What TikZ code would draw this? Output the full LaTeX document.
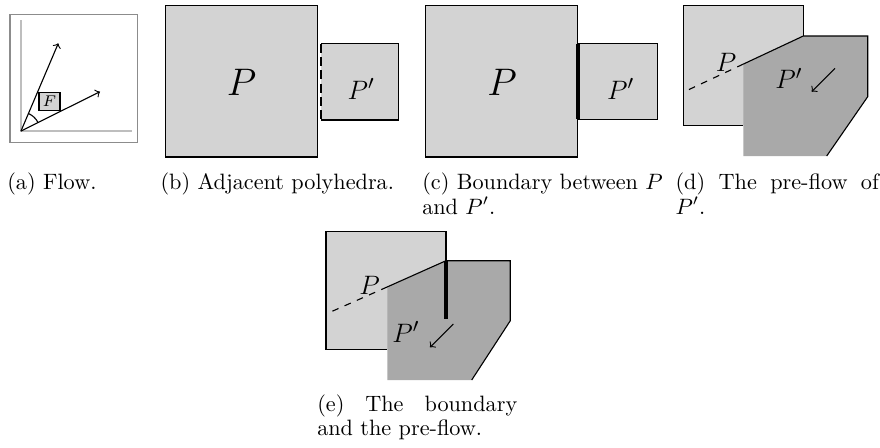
\documentclass[tikz,border=0pt]{standalone}
\usepackage{xcolor}
\definecolor{lgray}{RGB}{211,211,211}
\definecolor{dgray}{RGB}{169,169,169}
\definecolor{axgray}{RGB}{190,190,190}
\definecolor{boxgray}{RGB}{140,140,140}
\begin{document}
\begin{tikzpicture}[x=0.45pt,y=-0.45pt,line width=0.5pt,
  bigP/.style={inner sep=0,font=\fontsize{18.7}{22}\selectfont},
  smallP/.style={inner sep=0,font=\fontsize{12.7}{15}\selectfont},
  captext/.style={anchor=base west,inner sep=0,font=\fontsize{10}{12}\selectfont},
  thickbd/.style={line width=1.6pt},
  flowarrow/.style={->}]
\useasboundingbox (0,0) rectangle (880,447);
% ---------- (a) ----------
\draw[boxgray,line width=0.7pt] (10,14.3) rectangle (137.7,142.3);
\draw[axgray,line width=1pt] (21,20) -- (21,131) -- (132,131);
\coordinate (o) at (21,131);
\coordinate (a1) at (58.3,43.3);
\coordinate (a2) at (100,91.7);
\draw[flowarrow] (o) -- (a1);
\draw[flowarrow] (o) -- (a2);
\draw (o) ++(-26.5:19) arc[start angle=-26.5,end angle=-67,radius=19];
\node[draw,fill=lgray,minimum width=9.45pt,minimum height=8.3pt,inner sep=0,
  font=\fontsize{7.5}{9}\selectfont] (F) at (49.5,101.5) {$F$};
% ---------- (b) ----------
\filldraw[fill=lgray] (165.3,5.3) rectangle (317.3,157);
\fill[lgray] (321,43.7) rectangle (398.7,120);
\draw (321,43.7) -- (398.7,43.7) -- (398.7,120) -- (321,120);
\draw[dash pattern=on 4pt off 2pt] (321,43.7) -- (321,120);
\node[bigP] (Pb) at (241.7,82.5) {$P$};
\node[smallP] (Pbp) at (361.3,89) {$P'$};
% ---------- (c) ----------
\filldraw[fill=lgray] (425.7,5.3) rectangle (577.7,157);
\filldraw[fill=lgray] (579,43.7) rectangle (657.3,119.3);
\draw[thickbd] (577.5,43.7) -- (577.5,119.3);
\node[bigP] (Pc) at (502.2,82.5) {$P$};
\node[smallP] (Pcp) at (620.8,89) {$P'$};
% ---------- (d) ----------
\fill[lgray] (683.7,5.3) rectangle (803.3,125.3);
\fill[dgray] (803.3,36) -- (867.7,36) -- (867.7,96.7) -- (826.7,156) -- (743.3,156) -- (743.3,64.1) -- cycle;
\draw (743.3,125.3) -- (683.7,125.3) -- (683.7,5.3) -- (803.3,5.3) -- (803.3,36);
\draw (803.3,36) -- (867.7,36) -- (867.7,96.7) -- (826.7,156);
\draw (803.3,36) -- (743.3,64.1);
\draw[dashed] (743.3,64.1) -- (683.7,92);
\node[smallP] (Pd) at (726,62.5) {$P$};
\node[smallP] (Pdp) at (789,78.3) {$P'$};
\coordinate (d1) at (835,68.3);
\coordinate (d2) at (811.7,91.7);
\draw[flowarrow] (d1) -- (d2);
% ---------- (e) ----------
\fill[lgray] (326,231.7) rectangle (446,349.3);
\fill[dgray] (446,260.7) -- (510.3,260.7) -- (510.3,320.7) -- (471.7,380) -- (387.3,380) -- (387.3,286.9) -- cycle;
\draw (387.3,349.3) -- (326,349.3) -- (326,231.7) -- (446,231.7) -- (446,260.7);
\draw (446,260.7) -- (510.3,260.7) -- (510.3,320.7) -- (471.7,380);
\draw (446,260.7) -- (387.3,286.9);
\draw[dashed] (387.3,286.9) -- (326,314);
\draw[thickbd] (446,260.7) -- (446,319.3);
\node[smallP] (Pe) at (369.7,285) {$P$};
\node[smallP] (Pep) at (406,331.7) {$P'$};
\coordinate (e1) at (453.3,324);
\coordinate (e2) at (430,347.3);
\draw[flowarrow] (e1) -- (e2);
% ---------- captions ----------
\node[captext] (capa) at (6.7,189) {(a) Flow.};
\node[captext] (capb) at (160,189) {(b) Adjacent polyhedra.};
\node[captext] (capc1) at (421.7,189) {(c) Boundary between $P$};
\node[captext] (capc2) at (421.7,214) {and $P'$.};
\node[captext] (capd1) at (675,189) {\makebox[91.5pt][s]{(d) The pre-flow of}};
\node[captext] (capd2) at (675,214) {$P'$.};
\node[captext] (cape1) at (316.7,411) {\makebox[90pt][s]{(e) The boundary}};
\node[captext] (cape2) at (316.7,435) {and the pre-flow.};
\end{tikzpicture}
\end{document}
